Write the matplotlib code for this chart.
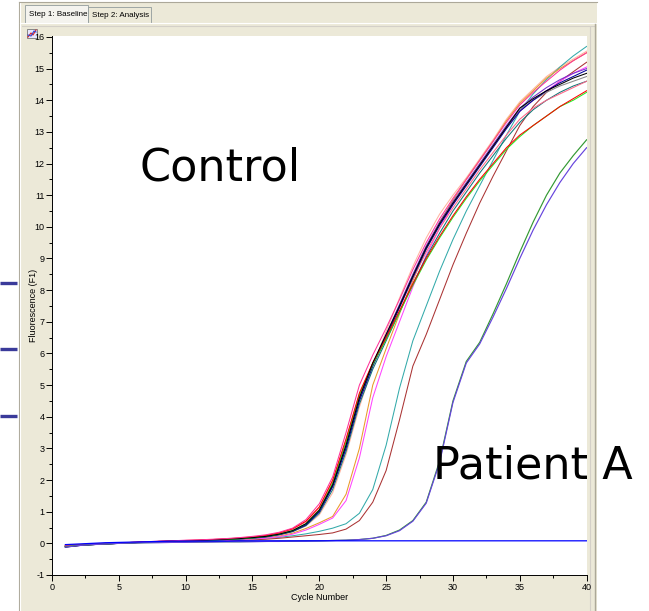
import matplotlib
matplotlib.use("Agg")
import matplotlib.pyplot as plt
from matplotlib.patches import Rectangle
from matplotlib.ticker import MultipleLocator

plt.rcParams["axes.unicode_minus"] = False

# ---------------- data ----------------
cycles = list(range(1, 41))

pink = [-0.08,-0.05,-0.03,-0.01,0.01,0.03,0.05,0.07,0.08,0.10,0.11,0.13,0.15,0.18,0.22,
        0.27,0.35,0.48,0.75,1.25,2.10,3.50,5.00,5.95,6.80,7.70,8.65,9.50,10.25,10.90,
        11.50,12.10,12.70,13.30,13.85,14.25,14.60,14.95,15.25,15.50]
black = [-0.12,-0.07,-0.04,-0.02,0.00,0.02,0.04,0.06,0.07,0.08,0.09,0.11,0.13,0.15,0.18,
         0.22,0.29,0.40,0.62,1.05,1.85,3.10,4.60,5.70,6.60,7.50,8.45,9.35,10.10,10.75,
         11.35,11.95,12.55,13.15,13.75,14.05,14.30,14.50,14.70,14.85]
navy = [-0.11,-0.07,-0.04,-0.02,0.00,0.02,0.04,0.05,0.07,0.08,0.09,0.10,0.12,0.14,0.17,
        0.21,0.28,0.38,0.58,1.00,1.80,3.00,4.50,5.60,6.50,7.45,8.40,9.30,10.05,10.70,
        11.30,11.90,12.50,13.10,13.65,14.00,14.30,14.55,14.75,14.95]
gray = [-0.10,-0.06,-0.03,-0.01,0.01,0.03,0.04,0.06,0.07,0.08,0.10,0.11,0.13,0.15,0.18,
        0.22,0.29,0.39,0.60,1.02,1.82,3.05,4.55,5.65,6.55,7.50,8.40,9.30,10.05,10.75,
        11.35,11.95,12.55,13.15,13.70,14.00,14.25,14.45,14.60,14.75]
red = [-0.09,-0.05,-0.03,-0.01,0.01,0.03,0.05,0.06,0.08,0.09,0.10,0.12,0.14,0.17,0.20,
       0.25,0.33,0.46,0.70,1.15,2.00,3.30,4.75,5.70,6.50,7.35,8.20,9.00,9.70,10.35,
       10.95,11.50,12.00,12.50,12.90,13.20,13.50,13.80,14.05,14.30]
lime = [-0.10,-0.06,-0.04,-0.02,0.00,0.02,0.04,0.05,0.07,0.08,0.09,0.10,0.12,0.14,0.17,
        0.22,0.29,0.40,0.62,1.05,1.90,3.20,4.70,5.65,6.45,7.30,8.15,8.95,9.65,10.30,
        10.90,11.45,11.95,12.45,12.85,13.20,13.50,13.80,14.00,14.25]
salmon = [-0.07,-0.04,-0.02,0.00,0.02,0.03,0.05,0.06,0.07,0.08,0.10,0.11,0.13,0.15,0.17,
          0.20,0.27,0.37,0.55,0.90,1.60,2.80,4.30,5.60,6.70,7.75,8.75,9.65,10.40,11.00,
          11.55,12.15,12.75,13.40,13.95,14.35,14.75,15.05,15.30,15.55]
orange = [-0.08,-0.05,-0.03,-0.01,0.01,0.02,0.04,0.05,0.06,0.07,0.08,0.09,0.11,0.12,0.14,
          0.17,0.23,0.32,0.47,0.65,0.85,1.55,3.00,5.00,6.15,7.25,8.30,9.30,10.15,10.85,
          11.50,12.10,12.70,13.35,13.90,14.30,14.70,15.00,15.25,15.50]
magenta = [-0.09,-0.06,-0.04,-0.02,0.00,0.02,0.03,0.05,0.06,0.07,0.08,0.09,0.10,0.12,0.14,
           0.16,0.21,0.29,0.42,0.60,0.80,1.35,2.70,4.60,5.90,7.00,8.10,9.10,9.95,10.70,
           11.35,11.95,12.55,13.15,13.65,14.00,14.30,14.60,14.85,15.05]
teal = [-0.08,-0.05,-0.03,-0.01,0.00,0.02,0.03,0.04,0.05,0.06,0.07,0.08,0.09,0.11,0.13,
        0.15,0.19,0.24,0.30,0.38,0.48,0.62,0.95,1.70,3.10,4.90,6.40,7.50,8.60,9.60,
        10.50,11.30,12.10,12.90,13.65,14.20,14.65,15.05,15.40,15.70]
brown = [-0.07,-0.04,-0.02,0.00,0.01,0.02,0.03,0.04,0.05,0.06,0.07,0.08,0.09,0.10,0.11,
         0.13,0.16,0.20,0.24,0.28,0.33,0.45,0.72,1.30,2.30,3.90,5.60,6.60,7.70,8.80,
         9.80,10.75,11.60,12.40,13.20,13.80,14.25,14.60,14.90,15.20]
darkcyan = [-0.10,-0.06,-0.03,-0.01,0.01,0.02,0.04,0.05,0.07,0.08,0.09,0.10,0.12,0.14,0.16,
            0.20,0.27,0.37,0.56,0.95,1.70,2.90,4.40,5.50,6.40,7.30,8.20,9.05,9.80,10.50,
            11.10,11.70,12.25,12.80,13.30,13.70,14.00,14.25,14.45,14.60]
rose = [-0.09,-0.05,-0.03,-0.01,0.01,0.03,0.04,0.06,0.07,0.09,0.10,0.12,0.14,0.16,0.19,
        0.24,0.32,0.44,0.68,1.12,1.95,3.25,4.70,5.70,6.55,7.45,8.35,9.20,9.95,10.60,
        11.20,11.80,12.35,12.90,13.40,13.75,14.00,14.20,14.40,14.60]
purple = [-0.11,-0.07,-0.04,-0.02,0.00,0.02,0.04,0.05,0.07,0.08,0.09,0.10,0.12,0.14,0.17,
          0.21,0.28,0.39,0.60,1.00,1.80,3.10,4.60,5.65,6.60,7.55,8.50,9.40,10.15,10.80,
          11.40,12.00,12.60,13.20,13.75,14.10,14.40,14.65,14.85,15.00]
patient_green = [-0.10,-0.06,-0.04,-0.02,0.00,0.01,0.02,0.03,0.03,0.04,0.04,0.05,0.05,0.05,0.06,
                 0.06,0.07,0.07,0.08,0.08,0.09,0.10,0.12,0.16,0.25,0.42,0.72,1.30,2.60,4.50,
                 5.75,6.35,7.25,8.20,9.20,10.15,11.00,11.70,12.25,12.75]
patient_purple = [-0.12,-0.07,-0.04,-0.02,0.00,0.01,0.02,0.02,0.03,0.03,0.04,0.04,0.05,0.05,0.05,
                  0.06,0.06,0.07,0.07,0.08,0.09,0.10,0.12,0.16,0.24,0.40,0.70,1.27,2.55,4.45,
                  5.70,6.30,7.15,8.05,9.00,9.90,10.70,11.40,12.00,12.50]
flat_blue = [-0.04,-0.02,0.00,0.02,0.03,0.04,0.05,0.06,0.07,0.07,0.07,0.07,0.07,0.08,0.08,
             0.08,0.08,0.08,0.08,0.08,0.08,0.08,0.08,0.08,0.08,0.08,0.08,0.08,0.08,0.08,
             0.08,0.08,0.08,0.08,0.08,0.08,0.08,0.08,0.08,0.08]

x_ticks = [0, 5, 10, 15, 20, 25, 30, 35, 40]
y_ticks = list(range(-1, 17))

control_series = [
    (salmon, "#FFB4A0"), (teal, "#33AAAA"), (brown, "#AA3333"), (orange, "#E89A2A"),
    (magenta, "#FF44FF"), (darkcyan, "#117777"), (rose, "#FF6688"), (gray, "#888888"),
    (purple, "#7733CC"), (navy, "#000099"), (lime, "#22EE22"), (red, "#FF0000"),
    (black, "#000000"), (pink, "#FF3399"),
]
patient_series = [(patient_green, "#339933"), (patient_purple, "#6644DD")]

# ---------------- figure ----------------
W, H = 649, 611
fig = plt.figure(figsize=(W / 100, H / 100), dpi=100)
fig.patch.set_facecolor("white")

FONT = ["Liberation Sans", "DejaVu Sans"]
BEIGE = "#ECE9D8"

# background (pixel coordinates)
bg = fig.add_axes([0, 0, 1, 1], zorder=0)
bg.set_xlim(0, W)
bg.set_ylim(H, 0)
bg.axis("off")
bg.add_patch(Rectangle((19, 2), 578, 609, facecolor=BEIGE, edgecolor="none"))
bg.plot([19, 19], [2, 611], color="#ACA899", lw=0.8)
bg.plot([20, 20], [3, 611], color="white", lw=0.8)
bg.plot([19, 597], [2, 2], color="#ACA899", lw=0.8)
bg.plot([20, 596], [23, 23], color="white", lw=0.8)
bg.add_patch(Rectangle((25, 5), 63, 18, facecolor="#F4F3EE", edgecolor="#919B9C", lw=0.6))
bg.add_patch(Rectangle((88, 7), 63, 16, facecolor=BEIGE, edgecolor="#919B9C", lw=0.6))
bg.text(29, 14.5, "Step 1: Baseline", fontsize=5.8, family=FONT, va="center", ha="left")
bg.text(92, 15.5, "Step 2: Analysis", fontsize=5.8, family=FONT, va="center", ha="left")
bg.plot([22, 595], [26, 26], color="#D4D0C8", lw=0.8)
bg.plot([590, 590], [27, 611], color="#D4D0C8", lw=0.8)
bg.plot([595, 595], [24, 611], color="#ACA899", lw=1.0)
bg.add_patch(Rectangle((27, 29), 10, 9, facecolor="#E6E6FF", edgecolor="#777777", lw=0.6))
bg.plot([28, 31, 33, 36], [37, 33, 35, 30], color="#DD2222", lw=0.8)
bg.plot([28, 31, 34, 36], [35, 36, 31, 32], color="#3344CC", lw=0.8)

# ---------------- main axes ----------------
x_left, x_right, y_top, y_bot = 52, 587, 36, 575
ax = fig.add_axes([x_left / W, 1 - y_bot / H, (x_right - x_left) / W, (y_bot - y_top) / H], zorder=1)
ax.set_facecolor("white")

for vals, col in control_series:
    ax.plot(cycles, vals, color=col, lw=0.75)
for vals, col in patient_series:
    ax.plot(cycles, vals, color=col, lw=0.85)
ax.plot(cycles, flat_blue, color="#0000FF", lw=0.9)

ax.set_xlim(0, 40.03)
ax.set_ylim(-1, 16.03)
ax.set_xticks(x_ticks)
ax.set_yticks(y_ticks)
ax.xaxis.set_minor_locator(MultipleLocator(2.5))
ax.yaxis.set_minor_locator(MultipleLocator(0.5))
ax.tick_params(which="major", direction="out", length=4, width=0.7, labelsize=6.5, pad=1.5)
ax.tick_params(which="minor", direction="out", length=2.5, width=0.7)
for lab in ax.get_xticklabels() + ax.get_yticklabels():
    lab.set_family(FONT)
for s in ("top", "right"):
    ax.spines[s].set_visible(False)
for s in ("left", "bottom"):
    ax.spines[s].set_linewidth(0.7)
ax.set_xlabel("Cycle Number", fontsize=6.5, family=FONT, labelpad=1)
ax.set_ylabel("Fluorescence (F1)", fontsize=6.5, family=FONT, labelpad=-3)

# ---------------- overlay ----------------
top = fig.add_axes([0, 0, 1, 1], zorder=2)
top.set_xlim(0, W)
top.set_ylim(H, 0)
top.axis("off")
top.patch.set_alpha(0)
for yy in (283, 349, 416):
    top.plot([0, 17], [yy, yy], color="#3A3A9A", lw=2.4, solid_capstyle="butt")
top.text(220, 168, "Control", fontsize=32, family=["DejaVu Sans"], ha="center", va="center")
top.text(533, 466, "Patient A", fontsize=32, family=["DejaVu Sans"], ha="center", va="center")

fig.savefig("out.png", dpi=100, facecolor="white")
